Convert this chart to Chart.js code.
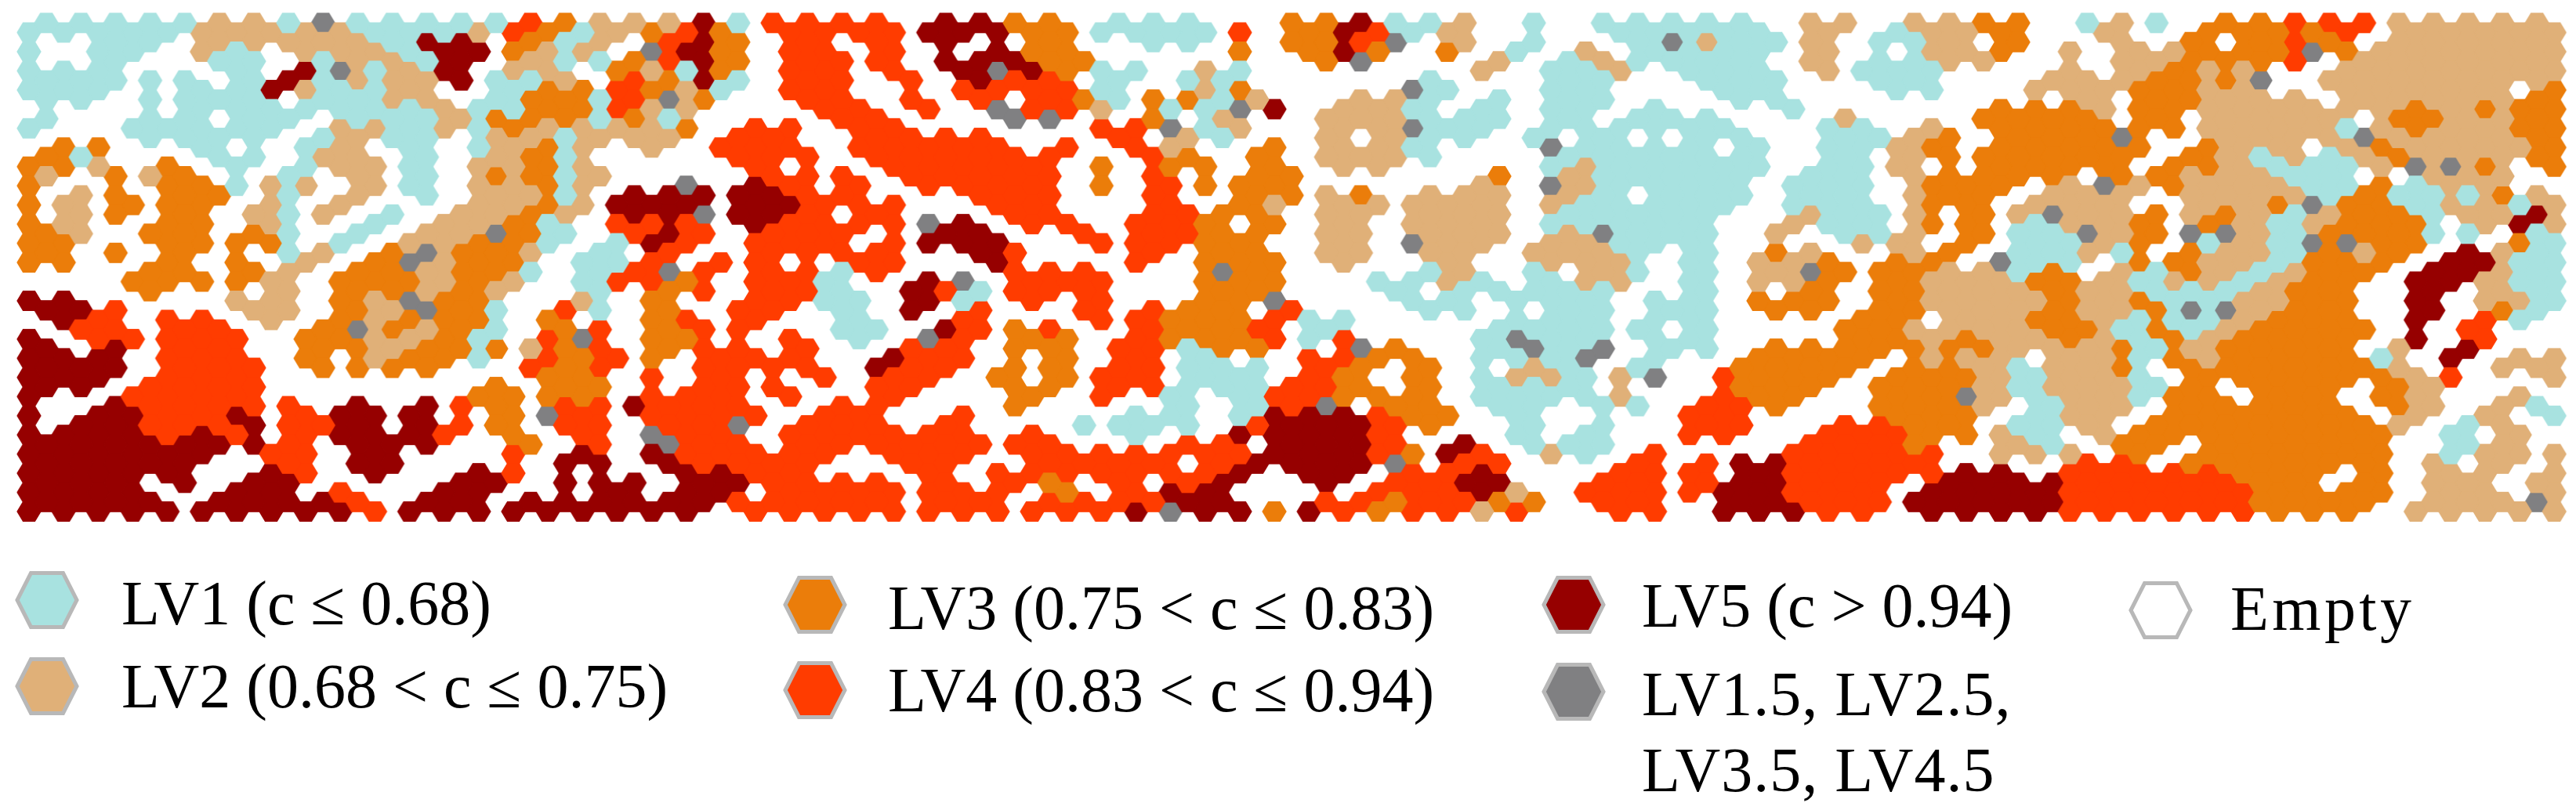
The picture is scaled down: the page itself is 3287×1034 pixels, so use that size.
<!DOCTYPE html>
<html>

<head>
    <meta charset="utf-8">
    <style>
        html, body { margin: 0; padding: 0; background: #fff; overflow: hidden; }
        #page { position: relative; width: 3287px; height: 1034px; }
        #mapChart { position: absolute; left: 0; top: 0; }
        .legendText {
            position: absolute;
            font-family: "Liberation Serif", serif;
            font-size: 80px;
            line-height: 0;
            white-space: nowrap;
            color: #000;
        }
        .legendHex { position: absolute; }
    </style>
    <script src="https://cdn.jsdelivr.net/npm/chart.js"></script>
</head>

<body>
    <div id="page">
        <canvas id="mapChart" width="3287" height="690"></canvas>
    </div>

    <script>
        // cell levels, one string per grid row: . empty, 1-5 LV1-LV5, g half levels
        // odd columns 1,3,5... sit half a row higher than even columns 0,2,4...
        const oddCells = [
            "11111221g111114322 25144 44.55 33.11 1..3 35112 .1.11 111.2 2.2 233.1 21.33 44422 222",
            "..11.22222155.312. 453.4 .4.5. .3..1 1..3 34g.2 .1..1 g2112 .11 2.3.. 2.3.3 43.22 222",
            "..1.. 11.12 215.2 113 453.4 44.55 533.. .... 3g... 2.121 111.2 .11 22... 22333 4.222 222",
            "11111 .1512 22511 2.4 351.4 4.4.5 44.1. 11.. ...1. ..11. .111. .11 ...22 2333g .2222 222",
            "11.11 11.11 22.13 314 g3..4 4.4.4 .4313 312. .221. 1.11. ..11. ... ....2 .3322 2.222 223",
            "1..11 .11.1 11233 313 1.... 44... gg..3 .2.. 22211 1.1.1 11... 2.. .3333 .3.22 22.33 223",
            "...11 11.12 11.22 122 2.44. .4444 ...4. 21.. 2.211 .1.1. .11.. 112 3.333 g..22 22g22 223",
            "31... 11.22 .1.23 1.. ..444 .4444 44..4 3.3. 2221. ..111 111.. 1.2 33333 3.321 21232 223",
            "2.323 ..1.2 .1.33 12. ...44 4.444 44..4 ..33 ..... 3.211 111.1 1.2 3333. 33222 11..2 22.",
            ".23.3 3.1.2 .1.22 1.5 55554 4...4 44..4 ..33 23.22 2.21. 111.1 1.2 33.22 2.222 21311 132",
            ".23.3 .212. 1.223 2.5 5g554 .4... 44..4 433. 22.22 2.111 11..2 112 .32g2 23232 12331 225",
            "32.33 .31.1 .22g3 1.4 54.44 4..55 ..4.4 433. 22.22 2.2g1 11.2. 112 .311g 23gg2 13331 1.1",
            "3.3.3 ..12. 3g332 .1. 4..44 44..5 4...4 .33. 22.22 .2221 .1.32 ..2 3.112 1.322 1323. 521",
            "...33 .32.3 32331 .14 g4.44 14... 444.. .g3. ...12 .1.21 .1.2g 333 2213. 21321 233.5 521",
            "...3. ..2.3 3232. .1. 34.44 1.541 444.. .33. ..1.1 1111. .1..3 .33 22232 21112 33..5 .21",
            "554.. .22.3 2g31. 41. 3.44. 1.5.4 ..4.4 33.4 ...11 ..11. 11.33 .33 22232 23gg2 33..5 .31",
            ".44.4 4..3g 3231. 34. 344.. 11.54 34..4 334. 1.... 11111 .1... 332 22233 13123 333.. 4..",
            "5.5.4 4..33 23332 34. 344.4 ..44. 33.44 133. .g3.. 1g1g. 11.33 333 33222 31233 33.2. 5..",
            "555.4 44.33 33..4 34. .4444 .544. 33.44 111. 43.3. .21.1 ..333 3.3 32122 3.333 3332. .22",
            "55.44 44... ...3. 33. .444. .44.. 33.44 1114 43.3. 111.. ..333 .33 32122 213.3 33.32 ...",
            "..544 444.5 .543. 445 444.. 44... 3.... 1.14 g.33. 11.11 .443. .33 32.12 2.333 33.32 .21",
            ".5544 45445 .543. 44. 44g.4 44.4. ..111 1.45 5543. .1.1. .44.. 443 3.112 .3333 3332. 12.",
            "55555 554.5 55..3 .4. g44.4 44444 44... 44.5 554.5 .111. ....4 443 ..21. 33.33 333.. 12.",
            "55555 ..4.5 5.... 55. 54444 ..44. .4444 .455 55g.4 4...4 .4554 444 ....4 4.333 333.2 .2.",
            "555.5 .55.. ..55. 555 .5544 44.4. 43.4. 45.. 5.445 5..44 .4554 44. 55554 44443 3.3.2 2.2",
            "5555. 55554 .55.5 555 55444 44.44 .4444 55.. 44344 33.44 ..554 445 55554 44443 333.2 22g"
        ];
        const evenCells = [
            "111112222211124312 343.4 44455 53311 114. 35412 ....1 1111. 2.12 23..2 ..333 34.22 222",
            "1.11. 21.22 21553 22. g53.4 4.4.. 533.. ..3. 353.3 .1.2. 1111. 2..2 23.2. 22333 g3222 222",
            "111.. .1.5g 125.2 2.3 213.4 4.4.5 g5311 .21. ..... 2.112 .111. 2111 ...2. 2322. .2222 222",
            "111.. 11521 12..1 334 321.4 4...4 4441. .23. ...g1 ..11. ..11. ..11 ..222 3322. .2222 2.3",
            "..... 11111 11211 334 22... 44.4. g442. 11g5 .221. 1.11. 1...1 .... .3332 33222 22232 333",
            "1..11 111.2 21213 222 23.44 .44.. ...44 g12. .22g1 1.111 111.. 11.2 .3333 33222 21232 233",
            ".33.. 1..12 .1.12 32. 2.444 .4444 4.4.4 2..3 .221. ..g11 11.1. 1123 .3333 3.322 .2322 223",
            "332.3 .1.12 21.22 32. ...4. ..444 44.3. 33.3 .22.. ..121 1111. 112. .3333 .3321 112gg 3.3",
            "3...3 3122. 21.22 32. .g.54 .4.44 44.3. 4333 ..... 2.g21 111.1 11.3 33.2g 23222 11312 2..",
            "32.33 3.2.2 ...22 325 55.55 444.. 44... 4.32 .2222 2.211 111.1 11.3 3.222 ..223 g3312 212",
            "32..3 3.2.. 1.223 1.4 44.54 444g5 .44.4 43.3 .2.22 2.111 11..2 11.3 3.122 3.321 2333. 252",
            "33..3 333.1 .2233 1.1 54.44 4.455 5..44 433. .2.g2 2.221 11... .22. 3.112 3.121 gg33. .31",
            "33..3 .3.2. 3g233 .11 4.44. .44.. 5...4 .333 .2..2 ..222 .1.22 3.33 .g11. 33221 333.5 511",
            "...33 332.3 33232 .14 43.44 1..5g .444. .333 ..112 1.122 .1.22 3.32 22332 12212 33.55 211",
            "55... .22.3 2g33. .2. 3..44 11.51 .4.4. .33g ...11 .111. 11.33 3.32 22232 31122 33.5. 221",
            ".54.4 4.2.3 2333. 3.. 34.4. .1..4 ...44 3334 11... .111. 11... .33. 22332 11123 33.5. 41.",
            "5.444 44.33 2231. 4g. 33..4 .1.g4 .33.4 3334 14... 1g11. 11... .332 32232 13233 33.5. 4..",
            "555.4 44.3. 2331. 434 3.444 ..544 ..3.4 .1.. 4433. 111g. 1..33 33.2 22.22 13233 331.5 .22",
            "555.4 44... ..... 33. 4.4.. 4.44. 3.344 .11. 43.3. 12212 g.433 3.33 32122 1.333 33324 ..2",
            "5..44 44... ...33 33. 444.4 ..4.. .3.4. 1.14 4333. 11112 ..433 ..33 g2122 133.3 3.32. .2.",
            "5.554 45.45 55..3 g4. 4444. 44..4 ....1 1.15 55433 .1... .44.. ..33 3.122 .3333 33.2. 2.1",
            "55554 54.45 554.3 .4. g44.4 44444 .4..1 ..55 554.. .1.1. .44.. 4443 321.2 33333 333.1 .2.",
            "55555 5.44. 5...4 .5. 54444 4.444 .4444 4445 55435 4.21. 4...4 4444 .222. 3.333 333.1 222",
            "55555 ..54. 5..54 ... .5544 ...4. 44444 445. 55.44 5...4 44.54 4444 55.44 44433 3.3.2 2.2",
            "5555. .55.4 ..55. ..5 .55.4 44444 4.3.4 55.. ..444 52.44 44554 44.5 55544 44443 333.2 2.2",
            "55555 55555 45555 555 55.44 44444 44445 g553 54344 24..4 4.555 44.5 55544 44443 33.22 222"
        ];

        const levelKeys = ["1", "2", "3", "4", "5", "g"];
        const levelColors = ["#a8e2e0", "#e0b078", "#eb7d0a", "#ff3c00", "#960000", "#808082"];
        const legendLabels = ["LV1 (c ≤ 0.68)", "LV2 (0.68 < c ≤ 0.75)", "LV3 (0.75 < c ≤ 0.83)", "LV4 (0.83 < c ≤ 0.94)", "LV5 (c > 0.94)", "LV1.5, LV2.5,", "Empty"];
        const legendFills = ["#a8e2e0", "#e0b078", "#eb7d0a", "#ff3c00", "#960000", "#808082", "#ffffff"];
        const labelSpacing = [0, 0, 0, 0, 0, 1, 4.4];
        const extraLabel = "LV3.5, LV4.5";

        // pixel layout of the map
        const colPitch = 22.07;
        const rowPitch = 24.46;
        const firstColX = 37;
        const firstRowY = 41.5;
        const chartW = 3287;
        const chartH = 690;

        // hexagon sprite, used as the point style
        function hexSprite(color) {
            const w = colPitch / 0.75 + 2;
            const h = rowPitch + 1.5;
            const c = document.createElement('canvas');
            c.width = Math.ceil(w) + 2;
            c.height = Math.ceil(h) + 2;
            const g = c.getContext('2d');
            const cx = c.width / 2, cy = c.height / 2;
            g.fillStyle = color;
            g.beginPath();
            g.moveTo(cx - w / 2, cy);
            g.lineTo(cx - w / 4, cy - h / 2);
            g.lineTo(cx + w / 4, cy - h / 2);
            g.lineTo(cx + w / 2, cy);
            g.lineTo(cx + w / 4, cy + h / 2);
            g.lineTo(cx - w / 4, cy + h / 2);
            g.closePath();
            g.fill();
            return c;
        }

        // turn the row strings into points of every level
        const pointsByLevel = levelKeys.map(() => []);
        function addCells(rows, startCol, yShift) {
            rows.forEach((row, r) => {
                row.replace(/ /g, '').split('').forEach((ch, i) => {
                    const level = levelKeys.indexOf(ch);
                    if (level >= 0) {
                        pointsByLevel[level].push({ x: startCol + i * 2, y: r + yShift });
                    }
                });
            });
        }
        addCells(evenCells, 0, 0);
        addCells(oddCells, 1, -0.5);

        new Chart(document.getElementById('mapChart'), {
            type: 'scatter',
            data: {
                datasets: levelKeys.map((key, i) => ({
                    label: key,
                    data: pointsByLevel[i],
                    pointStyle: hexSprite(levelColors[i]),
                    pointRadius: 10,
                    pointHoverRadius: 10,
                    clip: false
                }))
            },
            options: {
                responsive: false,
                animation: false,
                events: [],
                layout: { padding: 0, autoPadding: false },
                plugins: { legend: { display: false }, tooltip: { enabled: false } },
                scales: {
                    x: {
                        type: 'linear',
                        display: false,
                        min: -firstColX / colPitch,
                        max: (chartW - firstColX) / colPitch
                    },
                    y: {
                        type: 'linear',
                        display: false,
                        reverse: true,
                        min: -firstRowY / rowPitch,
                        max: (chartH - firstRowY) / rowPitch
                    }
                }
            }
        });

        // legend under the map
        const page = document.getElementById('page');
        const hexCentres = [[60, 766], [60, 876], [1040, 772], [1040, 881], [2008, 772], [2008, 883], [2757, 779]];
        const textAnchors = [[155, 797], [155, 903], [1133, 803], [1133, 908], [2095, 800], [2095, 913], [2846, 804]];

        function addText(str, x, baseline, spacing) {
            const t = document.createElement('div');
            t.className = 'legendText';
            t.textContent = str;
            t.style.left = x + 'px';
            t.style.top = (baseline - 0.3375 * 80) + 'px';
            t.style.letterSpacing = spacing + 'px';
            page.appendChild(t);
        }

        legendLabels.forEach((label, i) => {
            const [cx, cy] = hexCentres[i];
            const box = 90;
            const svg = document.createElementNS('http://www.w3.org/2000/svg', 'svg');
            svg.setAttribute('class', 'legendHex');
            svg.setAttribute('width', box);
            svg.setAttribute('height', box);
            svg.style.left = (cx - box / 2) + 'px';
            svg.style.top = (cy - box / 2) + 'px';
            const poly = document.createElementNS('http://www.w3.org/2000/svg', 'polygon');
            poly.setAttribute('points', '7,45 24.5,10.5 65.5,10.5 83,45 65.5,79.5 24.5,79.5');
            poly.setAttribute('fill', legendFills[i]);
            poly.setAttribute('stroke', '#b8b8b8');
            poly.setAttribute('stroke-width', '5');
            svg.appendChild(poly);
            page.appendChild(svg);
            addText(label, textAnchors[i][0], textAnchors[i][1], labelSpacing[i]);
        });
        addText(extraLabel, 2095, 1010, 1);
    </script>
</body>

</html>
